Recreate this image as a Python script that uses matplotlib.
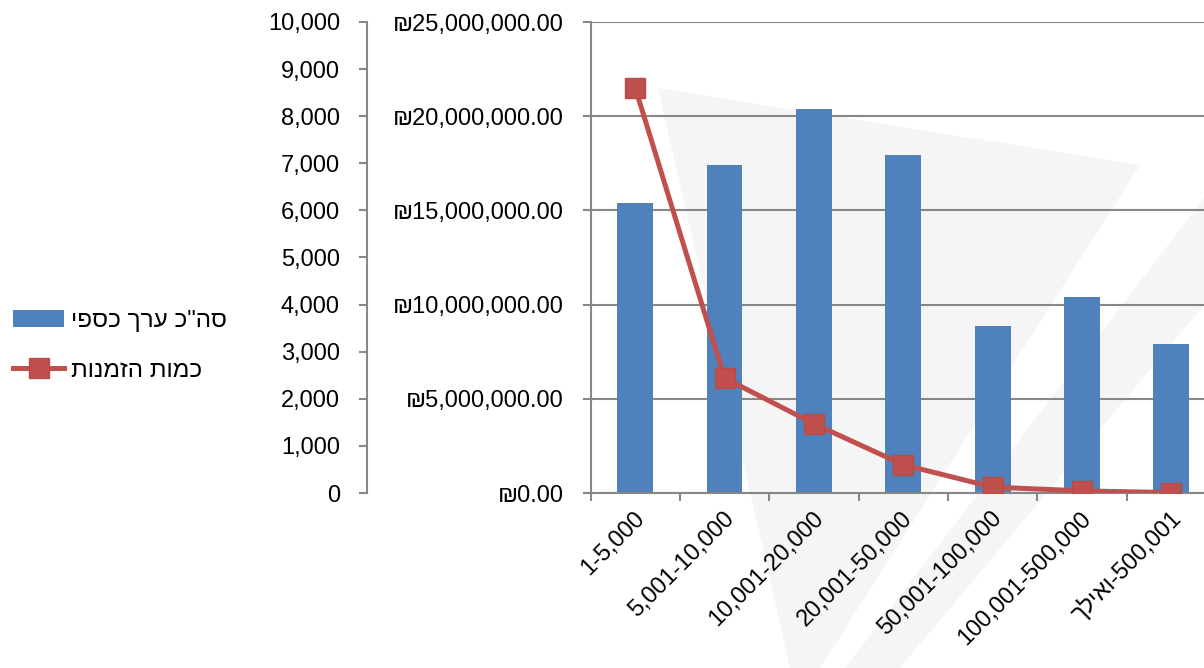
import matplotlib
matplotlib.use("Agg")
import matplotlib.pyplot as plt
import matplotlib.transforms as mtransforms
from matplotlib.patches import Polygon
from matplotlib.ticker import FuncFormatter, MultipleLocator
import numpy as np

plt.rcParams['font.family'] = ['Liberation Sans', 'DejaVu Sans']

# ---------------- data ----------------
categories = ["1-5,000", "5,001-10,000", "10,001-20,000", "20,001-50,000",
              "50,001-100,000", "100,001-500,000", "500,001-ואילך"]
total_value = [15.37e6, 17.40e6, 20.40e6, 17.95e6, 8.86e6, 10.38e6, 7.91e6]   # ₪
order_count = [8600, 2440, 1470, 600, 125, 45, 8]
series_names = ["סה\"כ ערך כספי", "כמות הזמנות"]


def is_heb(c):
    return '\u0590' <= c <= '\u05FF'


def visual(s):
    """matplotlib has no bidi: put RTL text into visual (left-to-right) order."""
    if not any(is_heb(c) for c in s):
        return s
    parts = s.split("-")
    if len(parts) == 2 and not any(is_heb(c) for c in parts[0]):
        # number range followed by Hebrew word: Hebrew run sits on the left
        return parts[1][::-1] + "-" + parts[0]
    return s[::-1]


BLUE = "#4F81BD"
RED = "#C0504D"
GRID = "#878787"
FS = 17
LFS = 17.5

W, H = 1204, 668
fig = plt.figure(figsize=(W / 100, H / 100), dpi=100)

# faint watermark in the background
def fx(px): return px / W
def fy(py): return 1 - py / H
WM = "#F5F5F5"
fig.add_artist(Polygon([(fx(658), fy(88)), (fx(1140), fy(165)), (fx(820), fy(668)), (fx(790), fy(668))],
                       closed=True, transform=fig.transFigure, facecolor=WM, edgecolor="none", zorder=0))
fig.add_artist(Polygon([(fx(1204), fy(198)), (fx(1204), fy(305)), (fx(900), fy(668)), (fx(845), fy(668))],
                       closed=True, transform=fig.transFigure, facecolor=WM, edgecolor="none", zorder=0))

left_px, right_px, top_px, bot_px = 590.6, 1216.0, 22.0, 493.0
ax = fig.add_axes([left_px / W, 1 - bot_px / H, (right_px - left_px) / W, (bot_px - top_px) / H])
ax.patch.set_alpha(0)

x = np.arange(len(categories))
ax.bar(x, total_value, width=0.4, color=BLUE, zorder=2, label=visual(series_names[0]))
ax.set_xlim(-0.5, len(categories) - 0.5)
ax.set_ylim(0, 25e6)
ax.yaxis.set_major_locator(MultipleLocator(5e6))
ax.yaxis.set_major_formatter(FuncFormatter(lambda v, p: "₪{:,.2f}".format(v)))
ax.grid(axis='y', color=GRID, linewidth=1.5, zorder=1)
ax.set_axisbelow(True)
for s in ['top', 'right']:
    ax.spines[s].set_visible(False)
for s in ['left', 'bottom']:
    ax.spines[s].set_color(GRID)
    ax.spines[s].set_linewidth(1.5)
ax.tick_params(axis='y', which='major', length=5.5, width=1.5, color=GRID, pad=14,
               labelsize=FS, labelcolor="black")
ax.set_xticks(x)
ax.set_xticklabels([visual(c) for c in categories], rotation=45, ha='right',
                   rotation_mode='anchor', va='center', fontsize=FS)
ax.tick_params(axis='x', which='major', length=0, pad=16)
ax.set_xticks(np.arange(len(categories) + 1) - 0.5, minor=True)
ax.tick_params(axis='x', which='minor', length=6, width=1.5, color=GRID)
offset = mtransforms.ScaledTranslation(6 / 100, 0, fig.dpi_scale_trans)
for lbl in ax.get_xticklabels():
    lbl.set_transform(lbl.get_transform() + offset)

# secondary axis (count) placed further left
ax2 = ax.twinx()
ax2.patch.set_alpha(0)
ax2.plot(x, order_count, color=RED, linewidth=3.6, marker='s', markersize=14,
         markerfacecolor=RED, markeredgecolor="#B84A47", markeredgewidth=1, zorder=3,
         label=visual(series_names[1]))
ax2.set_ylim(0, 10000)
ax2.yaxis.set_major_locator(MultipleLocator(1000))
ax2.yaxis.set_major_formatter(FuncFormatter(lambda v, p: "{:,.0f}".format(v)))
ax2.spines['right'].set_visible(False)
ax2.spines['top'].set_visible(False)
ax2.spines['bottom'].set_visible(False)
ax2.spines['left'].set_visible(True)
ax2.spines['left'].set_position(('axes', (367 - left_px) / (right_px - left_px)))
ax2.spines['left'].set_color(GRID)
ax2.spines['left'].set_linewidth(1.5)
ax2.yaxis.set_ticks_position('left')
ax2.yaxis.set_label_position('left')
ax2.tick_params(axis='y', length=5.5, width=1.5, color=GRID, pad=14, labelsize=FS,
                labelcolor="black")

h1, l1 = ax.get_legend_handles_labels()
h2, l2 = ax2.get_legend_handles_labels()
fig.legend(h1 + h2, l1 + l2, loc='center left', bbox_to_anchor=(13 / W, 1 - 346 / H),
           frameon=False, fontsize=LFS, handlelength=2.1, handletextpad=0.28,
           labelspacing=1.12, borderpad=0, borderaxespad=0)

fig.savefig("out.png", dpi=100)
